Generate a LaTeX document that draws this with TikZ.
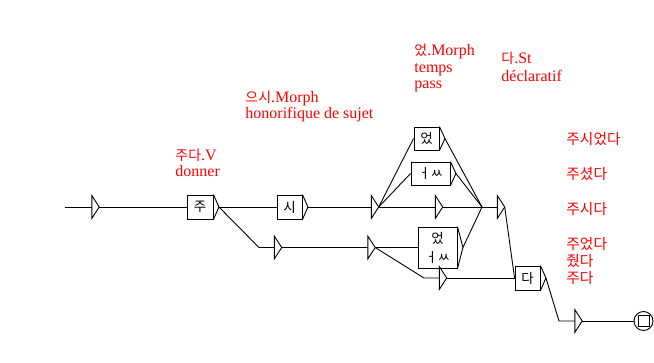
\documentclass[tikz,border=0pt]{standalone}
\usepackage{fontspec}
\setmainfont{Liberation Serif}
\newfontfamily\kr{Noto Sans CJK KR}[Scale=0.87]
\newfontfamily\krl{Noto Sans CJK KR}[Scale=0.92]
\begin{document}
\begin{tikzpicture}[x=1pt,y=-1pt, line width=0.9pt,
  box/.style={draw, inner sep=0, font=\kr\fontsize{15.5}{19}\selectfont},
  etri/.style={inner sep=0, minimum width=6.5pt, minimum height=22pt},
  lab/.style={text=red, inner sep=0, anchor=base west, font=\fontsize{16}{17}\selectfont},
  klab/.style={text=red, inner sep=0, anchor=west, font=\krl\fontsize{16}{17}\selectfont}]
\useasboundingbox (0,0) rectangle (654,362);
% states and boxes
\coordinate (start) at (65,207);
\node[etri] (e0) at (95.5,207) {};
\node[box, minimum width=26pt, minimum height=24pt] (zu) at (200,207) {주};
\node[box, minimum width=25pt, minimum height=24pt] (si) at (289.5,207) {시};
\node[etri] (e1) at (278,247.5) {};
\node[etri] (e2) at (375,207) {};
\node[box, minimum width=25pt, minimum height=23pt] (eot) at (426.5,138.5) {었};
\node[box, minimum width=39pt, minimum height=23pt] (eoss) at (430.5,173.5) {ㅓㅆ};
\node[etri] (e3) at (439,207) {};
\coordinate (J) at (482,207);
\node[etri] (e4) at (501,207) {};
\node[etri] (e5) at (371.5,247.5) {};
\node[box, minimum width=39pt, minimum height=41pt, align=center] (big) at (437.5,247.5) {었\\ㅓㅆ};
\coordinate (b1) at (259,247.5);
\coordinate (b2) at (424,278);
\node[etri] (e6) at (443,278) {};
\node[box, minimum width=25pt, minimum height=24pt] (da) at (527.5,278) {다};
\coordinate (b3) at (559,321);
\node[etri] (e7) at (578.5,321) {};
\node[draw, circle, minimum size=19pt, inner sep=0] (fin) at (643.5,321) {};
\node[draw, minimum size=11pt, inner sep=0] (finsq) at (fin.center) {};
% box tips
\foreach \b in {zu,si,eot,eoss,big,da}{
  \coordinate (\b-t) at ([xshift=5.5pt]\b.east);
  \draw (\b.north east) -- (\b-t) -- (\b.south east);
}
% empty-state triangles
\foreach \n in {e0,e1,e2,e3,e4,e5,e6,e7}{
  \draw (\n.north west) -- (\n.east) -- (\n.south west) -- cycle;
}
% connectors
\draw (start) -- (e0.west);
\draw (e0.east) -- (zu.west);
\draw (zu-t) -- (si.west);
\draw (zu-t) -- (b1) -- (e1.west);
\draw (si-t) -- (e2.west);
\draw (e2.east) -- (eot.west);
\draw (e2.east) -- (eoss.west);
\draw (e2.east) -- (e3.west);
\draw (eot-t) -- (J);
\draw (eoss-t) -- (J);
\draw (e3.east) -- (J);
\draw (big-t) -- (J);
\draw (J) -- (e4.west);
\draw (e4.east) -- (da.west);
\draw (e1.east) -- (e5.west);
\draw (e5.east) -- (big.west);
\draw (e5.east) -- (b2) -- (e6.west);
\draw (e6.east) -- (da.west);
\draw (da-t) -- (b3) -- (e7.west);
\draw (e7.east) -- (fin.west);
% labels
\node[lab] (l1a) at (175,160) {{\kr 주다}.V};
\node[lab] (l1b) at (175,176) {donner};
\node[lab] (l2a) at (245,102) {{\kr 으시}.Morph};
\node[lab] (l2b) at (245,118) {honorifique de sujet};
\node[lab] (l3a) at (414,55) {{\kr 었}.Morph};
\node[lab] (l3b) at (414,72) {temps};
\node[lab] (l3c) at (414,88) {pass};
\node[lab] (l4a) at (501,63) {{\kr 다}.St};
\node[lab] (l4b) at (501,81) {déclaratif};
\node[klab] (r1) at (566,139) {주시었다};
\node[klab] (r2) at (566,174) {주셨다};
\node[klab] (r3) at (566,209) {주시다};
\node[klab] (r4) at (566,244) {주었다};
\node[klab] (r5) at (566,261) {줬다};
\node[klab] (r6) at (566,278) {주다};
\end{tikzpicture}
\end{document}
